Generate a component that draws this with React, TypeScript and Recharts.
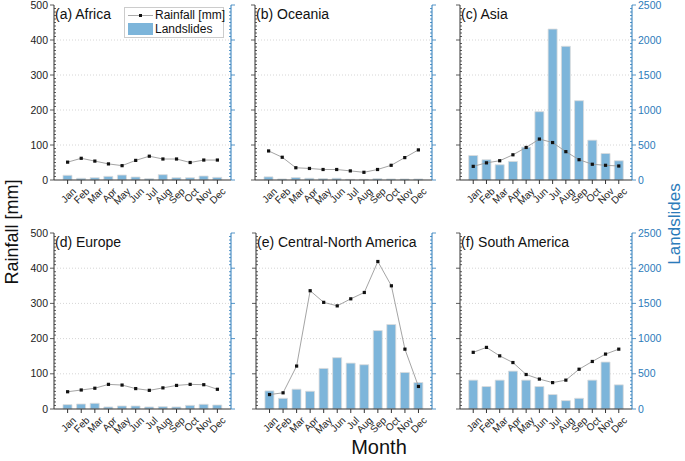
import React from 'react'
import {
  ComposedChart,
  Bar,
  Line,
  XAxis,
  YAxis,
  CartesianGrid,
} from 'recharts'

const months = ['Jan', 'Feb', 'Mar', 'Apr', 'May', 'Jun', 'Jul', 'Aug', 'Sep', 'Oct', 'Nov', 'Dec']

// rainfall [mm] and landslide counts per month
const africaRain = [51, 62, 54, 46, 41, 56, 68, 60, 60, 50, 57, 57]
const africaSlides = [67, 24, 33, 52, 71, 43, 19, 76, 33, 33, 57, 38]
const oceaniaRain = [83, 65, 35, 33, 30, 30, 26, 22, 30, 42, 64, 86]
const oceaniaSlides = [45, 15, 35, 25, 20, 25, 10, 10, 20, 15, 15, 15]
const asiaRain = [39, 49, 55, 72, 93, 117, 107, 81, 58, 45, 42, 40]
const asiaSlides = [350, 290, 218, 265, 469, 976, 2156, 1910, 1133, 569, 379, 275]
const europeRain = [49, 54, 59, 70, 68, 58, 53, 60, 67, 70, 69, 56]
const europeSlides = [62, 71, 81, 29, 43, 43, 29, 33, 29, 52, 67, 57]
const cnAmericaRain = [41, 46, 122, 336, 303, 293, 313, 331, 419, 350, 170, 64]
const cnAmericaSlides = [257, 152, 281, 252, 576, 729, 652, 629, 1114, 1200, 519, 376]
const sAmericaRain = [161, 175, 151, 132, 98, 85, 75, 82, 113, 135, 156, 170]
const sAmericaSlides = [410, 319, 410, 538, 410, 319, 205, 119, 152, 410, 667, 343]

const rainTicks = Array.from({ length: 51 }, (_, i) => i * 10)
const slideTicks = Array.from({ length: 51 }, (_, i) => i * 50)
const gridValues = [100, 200, 300, 400]

const FONT = '"Liberation Sans", Arial, Helvetica, sans-serif'
const BLUE = '#2b7bba'
const BAR_FILL = '#7db5da'
const AXIS = '#333'

const AXIS_W = 45
const X_H = 40
const TOP = 6

interface PanelProps {
  title: string
  rain: number[]
  slides: number[]
  left: number
  top: number
  width: number
  height: number
  leftLabels?: boolean
  rightLabels?: boolean
  legend?: boolean
}

const Square = (props: any) => {
  const { cx, cy } = props
  if (cx == null || cy == null) return null
  return <rect x={cx - 1.6} y={cy - 1.6} width={3.2} height={3.2} fill="#111" />
}

function Panel({ title, rain, slides, left, top, width, height, leftLabels, rightLabels, legend }: PanelProps) {
  const data = months.map((m, i) => ({ month: m, rain: rain[i], slides: slides[i] }))
  const pad = width / 26

  const leftTick = (props: any) => {
    const { x, y, payload } = props
    const v = payload.value as number
    const major = v % 100 === 0
    return (
      <g>
        <line x1={x} x2={major ? x - 4 : x + 2} y1={y} y2={y} stroke={AXIS} strokeWidth={0.8} />
        {major && leftLabels && (
          <text x={x - 6} y={y} dy={3.6} textAnchor="end" fontSize={10.5} fill="#222" fontFamily={FONT}>
            {v}
          </text>
        )}
      </g>
    )
  }

  const rightTick = (props: any) => {
    const { x, y, payload } = props
    const v = payload.value as number
    const major = v % 500 === 0
    return (
      <g>
        <line x1={x} x2={major ? x + 4 : x - 2} y1={y} y2={y} stroke={BLUE} strokeWidth={0.8} />
        {major && rightLabels && (
          <text x={x + 6} y={y} dy={3.6} textAnchor="start" fontSize={10.5} fill={BLUE} fontFamily={FONT}>
            {v}
          </text>
        )}
      </g>
    )
  }

  const monthTick = (props: any) => {
    const { x, y, payload } = props
    return (
      <text
        transform={`translate(${x + 9},${y + 6}) rotate(-45)`}
        textAnchor="end"
        fontSize={10}
        fill="#222"
        fontFamily={FONT}
      >
        {payload.value}
      </text>
    )
  }

  return (
    <div style={{ position: 'absolute', left: left - AXIS_W, top: top - TOP }}>
      <ComposedChart
        width={AXIS_W * 2 + width}
        height={TOP + height + X_H}
        data={data}
        margin={{ top: TOP, right: 0, bottom: 0, left: 0 }}
        barCategoryGap="16%"
      >
        <CartesianGrid
          yAxisId="l"
          vertical={false}
          horizontalValues={gridValues}
          stroke="#d6d6d6"
          strokeDasharray="1 2"
        />
        <XAxis
          dataKey="month"
          interval={0}
          padding={{ left: pad, right: pad }}
          height={X_H}
          tickSize={4}
          tickMargin={2}
          axisLine={{ stroke: AXIS }}
          tickLine={{ stroke: AXIS }}
          tick={monthTick}
        />
        <XAxis
          xAxisId="top"
          dataKey="month"
          orientation="top"
          height={0}
          tick={false}
          tickLine={false}
          axisLine={{ stroke: '#666', strokeWidth: 1.2 }}
        />
        <YAxis
          yAxisId="l"
          domain={[0, 500]}
          ticks={rainTicks}
          interval={0}
          width={AXIS_W}
          tickSize={0}
          tickMargin={0}
          tickLine={false}
          axisLine={{ stroke: AXIS }}
          tick={leftTick}
        />
        <YAxis
          yAxisId="r"
          orientation="right"
          domain={[0, 2500]}
          ticks={slideTicks}
          interval={0}
          width={AXIS_W}
          tickSize={0}
          tickMargin={0}
          tickLine={false}
          axisLine={{ stroke: BLUE }}
          tick={rightTick}
        />
        <Bar
          yAxisId="r"
          dataKey="slides"
          fill={BAR_FILL}
          stroke="#dcdcdc"
          strokeWidth={0.8}
          isAnimationActive={false}
        />
        <Line
          yAxisId="l"
          dataKey="rain"
          type="linear"
          stroke="#9a9a9a"
          strokeWidth={0.9}
          dot={<Square />}
          activeDot={false}
          isAnimationActive={false}
        />
      </ComposedChart>
      <div
        style={{
          position: 'absolute',
          left: AXIS_W + 1,
          top: TOP + 1,
          fontSize: 14,
          fontFamily: FONT,
          color: '#111',
          whiteSpace: 'nowrap',
        }}
      >
        {title}
      </div>
      {legend && (
        <div
          style={{
            position: 'absolute',
            left: AXIS_W + 70,
            top: TOP + 2,
            width: 98,
            height: 29,
            border: '1px solid #ccc',
            background: '#fff',
            fontFamily: FONT,
            fontSize: 12,
            color: '#111',
          }}
        >
          <div style={{ position: 'absolute', left: 3, top: 7, width: 25, height: 1, background: '#aaa' }} />
          <div style={{ position: 'absolute', left: 14, top: 6, width: 3, height: 3, background: '#111' }} />
          <div style={{ position: 'absolute', left: 30, top: 0, whiteSpace: 'nowrap' }}>Rainfall [mm]</div>
          <div style={{ position: 'absolute', left: 3, top: 15, width: 25, height: 12, background: BAR_FILL }} />
          <div style={{ position: 'absolute', left: 30, top: 14, whiteSpace: 'nowrap' }}>Landslides</div>
        </div>
      )}
    </div>
  )
}

export default function App() {
  return (
    <div
      style={{
        position: 'absolute',
        left: 0,
        top: 0,
        width: 685,
        height: 461,
        background: '#fff',
        overflow: 'hidden',
        fontFamily: FONT,
      }}
    >
      <Panel title="(a) Africa" rain={africaRain} slides={africaSlides} left={54} top={5} width={177} height={175} leftLabels legend />
      <Panel title="(b) Oceania" rain={oceaniaRain} slides={oceaniaSlides} left={255} top={5} width={177} height={175} />
      <Panel title="(c) Asia" rain={asiaRain} slides={asiaSlides} left={460} top={5} width={172} height={175} rightLabels />
      <Panel title="(d) Europe" rain={europeRain} slides={europeSlides} left={54} top={233} width={177} height={176} leftLabels />
      <Panel
        title="(e) Central-North America"
        rain={cnAmericaRain}
        slides={cnAmericaSlides}
        left={256}
        top={233}
        width={176}
        height={176}
      />
      <Panel title="(f) South America" rain={sAmericaRain} slides={sAmericaSlides} left={460} top={233} width={172} height={176} rightLabels />

      <div
        style={{
          position: 'absolute',
          left: 12,
          top: 232,
          transform: 'translate(-50%, -50%) rotate(-90deg)',
          fontSize: 18,
          color: '#111',
          whiteSpace: 'nowrap',
        }}
      >
        Rainfall [mm]
      </div>
      <div
        style={{
          position: 'absolute',
          left: 675,
          top: 224,
          transform: 'translate(-50%, -50%) rotate(-90deg)',
          fontSize: 17,
          color: BLUE,
          whiteSpace: 'nowrap',
        }}
      >
        Landslides
      </div>
      <div
        style={{
          position: 'absolute',
          left: 379,
          top: 447,
          transform: 'translate(-50%, -50%)',
          fontSize: 20,
          color: '#111',
          whiteSpace: 'nowrap',
        }}
      >
        Month
      </div>
    </div>
  )
}
